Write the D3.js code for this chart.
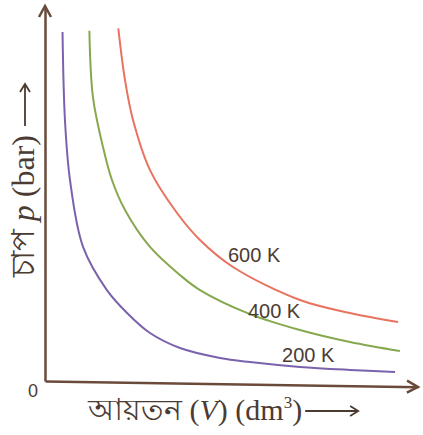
<!DOCTYPE html>
<html>
<head>
<meta charset="utf-8">
<script src="https://cdn.jsdelivr.net/npm/d3@7"></script>
<style>
  body { margin: 0; background: #fff; }
  svg { display: block; }
</style>
</head>
<body>
<div id="chart"></div>
<script>
var svgWidth = 423;
var svgHeight = 435;

// isotherm readings: volume (V) and pressure (p), in chart units
var v200 = [0.94, 1.07, 1.34, 2.04, 3.32, 4.40, 5.63, 7.24, 9.38, 10.99, 13.67, 16.35, 18.77];
var p200 = [18.61, 13.92, 10.72, 7.15, 4.85, 3.63, 2.56, 1.76, 1.23, 1.01, 0.75, 0.59, 0.48];

var v400 = [2.38, 2.57, 3.11, 3.59, 4.29, 5.63, 7.24, 8.31, 10.99, 13.67, 16.35, 19.03];
var p400 = [18.68, 15.15, 12.48, 10.72, 9.12, 7.15, 5.65, 4.85, 3.57, 2.72, 2.08, 1.60];

var v600 = [3.93, 4.29, 4.72, 5.63, 7.08, 8.31, 10.08, 13.67, 16.35, 18.93];
var p600 = [18.81, 16.05, 13.92, 11.25, 8.96, 7.52, 6.08, 4.32, 3.63, 3.15];

var seriesNames = ["200 K", "400 K", "600 K"];
var labelV = [12.71, 10.88, 9.81];
var labelP = [1.01, 3.36, 6.35];

var colors = ["#7a62ad", "#86a84e", "#e8735f"];

var svg = d3.select("#chart")
  .append("svg")
  .attr("width", svgWidth)
  .attr("height", svgHeight);

var x = d3.scaleLinear().domain([0, 20]).range([45, 418]);
var y = d3.scaleLinear().domain([0, 20]).range([381, 6]);

var axisColor = "#6a4a3a";
var textColor = "#4b3b33";

// y axis with arrow
var yAxis = svg.append("g")
  .attr("transform", `translate(${x(0)}, 0)`)
  .call(d3.axisLeft(y).ticks(0).tickSizeOuter(0));
yAxis.select(".domain")
  .attr("stroke", axisColor)
  .attr("stroke-width", 2.5);
svg.append("path")
  .attr("d", `M${x(0) - 6},${y(20) + 11} L${x(0)},${y(20)} L${x(0) + 6},${y(20) + 11}`)
  .attr("fill", "none")
  .attr("stroke", axisColor)
  .attr("stroke-width", 2.5);

// x axis (photo is slightly tilted)
var xAxis = svg.append("g")
  .attr("transform", `translate(0, ${y(0)}) rotate(0.9, ${x(0)}, 0)`)
  .call(d3.axisBottom(x).ticks(0).tickSizeOuter(0));
xAxis.select(".domain")
  .attr("stroke", axisColor)
  .attr("stroke-width", 2.5);
xAxis.append("path")
  .attr("d", `M${x(20) - 11},-6 L${x(20)},0 L${x(20) - 11},6`)
  .attr("fill", "none")
  .attr("stroke", axisColor)
  .attr("stroke-width", 2.5);

// origin
svg.append("text")
  .attr("x", 33)
  .attr("y", 397)
  .attr("text-anchor", "middle")
  .attr("font-family", "Liberation Sans, Arial, sans-serif")
  .attr("font-size", 18)
  .attr("fill", textColor)
  .text("0");

// curves
var line = d3.line()
  .x(d => x(d[0]))
  .y(d => y(d[1]))
  .curve(d3.curveCatmullRom);

var series = [d3.zip(v200, p200), d3.zip(v400, p400), d3.zip(v600, p600)];

svg.selectAll(".iso")
  .data(series)
  .enter()
  .append("path")
  .attr("class", "iso")
  .attr("d", line)
  .attr("fill", "none")
  .attr("stroke", (d, i) => colors[i])
  .attr("stroke-width", 2);

svg.selectAll(".iso-label")
  .data(seriesNames)
  .enter()
  .append("text")
  .attr("class", "iso-label")
  .attr("x", (d, i) => x(labelV[i]))
  .attr("y", (d, i) => y(labelP[i]))
  .attr("font-family", "Liberation Sans, Arial, sans-serif")
  .attr("font-size", 20)
  .attr("fill", textColor)
  .text(d => d);

// x title
var xTitle = svg.append("text")
  .attr("x", 88)
  .attr("y", 420)
  .attr("font-family", "Liberation Serif, Times New Roman, serif")
  .attr("font-size", 30)
  .attr("fill", textColor);
xTitle.append("tspan").text("আয়তন (");
xTitle.append("tspan").attr("font-style", "italic").text("V");
xTitle.append("tspan").text(") (dm");
xTitle.append("tspan").attr("font-size", 17).attr("dy", -12).text("3");
xTitle.append("tspan").attr("dy", 12).text(")");

var xEnd = 88 + xTitle.node().getComputedTextLength();
svg.append("path")
  .attr("d", `M${xEnd + 3},411 H${xEnd + 56} M${xEnd + 48},406 L${xEnd + 56},411 L${xEnd + 48},416`)
  .attr("fill", "none")
  .attr("stroke", textColor)
  .attr("stroke-width", 1.8);

// y title
var yTitle = svg.append("text")
  .attr("transform", "translate(34, 135) rotate(-90)")
  .attr("text-anchor", "end")
  .attr("font-family", "Liberation Serif, Times New Roman, serif")
  .attr("font-size", 32)
  .attr("fill", textColor);
yTitle.append("tspan").text("চাপ ");
yTitle.append("tspan").attr("font-style", "italic").text("p");
yTitle.append("tspan").text(" (bar)");

svg.append("path")
  .attr("d", "M25,126 V84 M20,92 L25,84 L30,92")
  .attr("fill", "none")
  .attr("stroke", textColor)
  .attr("stroke-width", 1.8);
</script>
</body>
</html>
